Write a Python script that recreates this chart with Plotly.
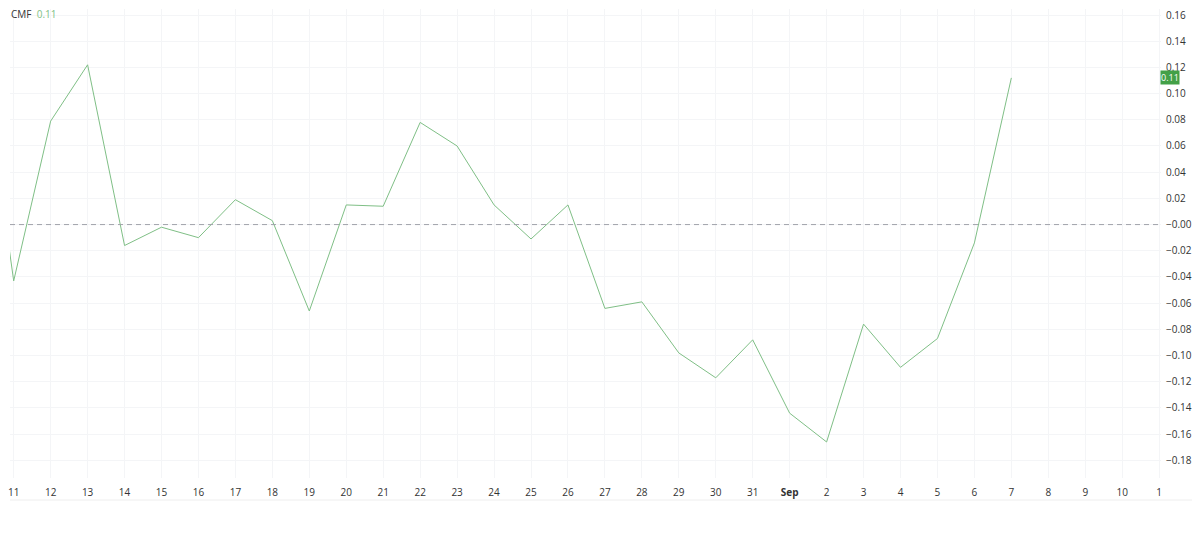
import plotly.graph_objects as go

# ---- data ----
point_labels = ["10", "11", "12", "13", "14", "15", "16", "17", "18", "19", "20",
                "21", "22", "23", "24", "25", "26", "27", "28", "29", "30", "31",
                "Sep", "2", "3", "4", "5", "6", "7"]
cmf_values = [0.159, -0.043, 0.079, 0.122, -0.016, -0.002, -0.010, 0.019, 0.003,
              -0.066, 0.015, 0.014, 0.078, 0.060, 0.015, -0.011, 0.015, -0.064,
              -0.059, -0.098, -0.117, -0.088, -0.144, -0.166, -0.076, -0.109,
              -0.087, -0.014, 0.112]

tick_labels = ["11", "12", "13", "14", "15", "16", "17", "18", "19", "20", "21",
               "22", "23", "24", "25", "26", "27", "28", "29", "30", "31",
               "<b>Sep</b>", "2", "3", "4", "5", "6", "7", "8", "9", "10", "1"]

y_tick_values = [0.16, 0.14, 0.12, 0.10, 0.08, 0.06, 0.04, 0.02, 0.00,
                 -0.02, -0.04, -0.06, -0.08, -0.10, -0.12, -0.14, -0.16, -0.18]
y_tick_labels = ["0.16", "0.14", "0.12", "0.10", "0.08", "0.06", "0.04", "0.02", "\u22120.00",
                 "\u22120.02", "\u22120.04", "\u22120.06", "\u22120.08", "\u22120.10",
                 "\u22120.12", "\u22120.14", "\u22120.16", "\u22120.18"]

last_label = "0.11"

x_idx = list(range(len(point_labels)))
tick_idx = list(range(1, len(tick_labels) + 1))

LINE = "#7fbf86"
BADGE = "#43a047"
FONT = "Open Sans, Roboto, Arial, sans-serif"

fig = go.Figure()
fig.add_trace(go.Scatter(x=x_idx, y=cmf_values, mode="lines",
                         line=dict(color=LINE, width=1), hoverinfo="skip",
                         showlegend=False))

# page has an 8px body margin: figure is sized to fit the window
fig.update_layout(
    width=1184, height=524,
    margin=dict(l=0, r=30, t=0, b=54),
    paper_bgcolor="white", plot_bgcolor="white",
    font=dict(family=FONT, size=10, color="#333333"),
    xaxis=dict(range=[0.900, 32.05], tickmode="array", tickvals=tick_idx,
               ticktext=tick_labels, showgrid=True, gridcolor="#f4f5f7",
               gridwidth=1, zeroline=False, showline=False,
               ticks="outside", ticklen=5, tickcolor="rgba(0,0,0,0)",
               ticklabeloverflow="allow",
               tickfont=dict(size=10, color="#333333")),
    yaxis=dict(range=[-0.1935, 0.1646], side="right", tickmode="array",
               tickvals=y_tick_values, ticktext=y_tick_labels,
               showgrid=True, gridcolor="#f4f5f7", gridwidth=1,
               zeroline=False, showline=False, ticks="outside", ticklen=2,
               tickcolor="rgba(0,0,0,0)", ticklabeloverflow="allow",
               tickfont=dict(size=10, color="#333333")),
)

# dashed zero line
fig.add_shape(type="line", xref="paper", yref="y", x0=0, x1=1, y0=0, y1=0,
              line=dict(color="#a0a3aa", width=1, dash="5px,4px"))

# bottom separator below the time axis
fig.add_shape(type="line", xref="paper", yref="paper", x0=0, x1=1.03,
              y0=-0.047, y1=-0.047, line=dict(color="#eeeeee", width=1))

# last value badge
fig.add_annotation(xref="paper", yref="y", x=1.0, y=cmf_values[-1],
                   xanchor="left", yanchor="middle", text=last_label,
                   showarrow=False, bgcolor=BADGE, borderpad=0,
                   font=dict(color="white", size=9, family=FONT), xshift=-1)

# indicator title
fig.add_annotation(xref="paper", yref="paper", x=0.0, y=1.0,
                   xanchor="left", yanchor="top", showarrow=False,
                   borderpad=0, yshift=3,
                   text="<span style='color:#333333'>CMF</span>  "
                        "<span style='color:#7fbf86'>" + last_label + "</span>",
                   font=dict(size=10, family=FONT))

fig.write_html("out.html")
